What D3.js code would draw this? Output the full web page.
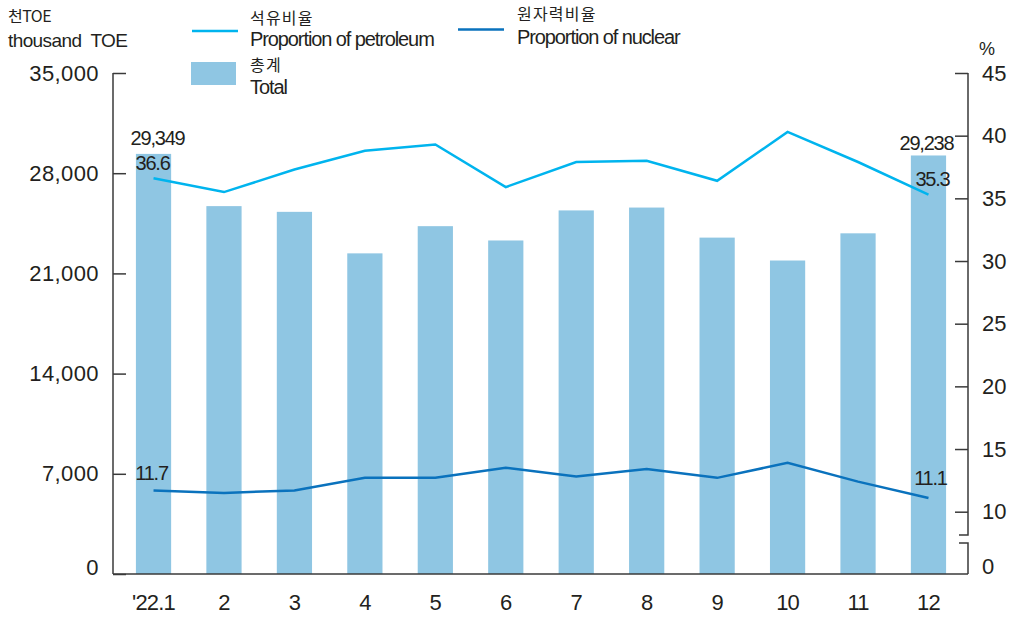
<!DOCTYPE html>
<html>
<head>
<meta charset="utf-8">
<script src="https://cdn.jsdelivr.net/npm/d3@7"></script>
<style>
  body { margin: 0; background: #fff; }
  svg text { font-family: "Liberation Sans", Arial, sans-serif; fill: #231f20; }
  .kr { font-family: "Noto Sans CJK KR", "Noto Sans", sans-serif; }
</style>
</head>
<body>
<div id="chart"></div>
<script>
// data
var months = ["'22.1", "2", "3", "4", "5", "6", "7", "8", "9", "10", "11", "12"];
var totals = [29349, 25700, 25300, 22400, 24300, 23300, 25400, 25600, 23500, 21900, 23800, 29238];
var petroleum = [36.6, 35.5, 37.3, 38.8, 39.3, 35.9, 37.9, 38.0, 36.4, 40.3, 37.9, 35.3];
var nuclear = [11.7, 11.5, 11.7, 12.7, 12.7, 13.5, 12.8, 13.4, 12.7, 13.9, 12.4, 11.1];
var leftTicks = [0, 7000, 14000, 21000, 28000, 35000];
var rightTicks = [10, 15, 20, 25, 30, 35, 40, 45];

var width = 1013, height = 618;
var plot = { left: 113, right: 968, top: 73, bottom: 574 };

var barColor = "#8fc6e3",
    petroColor = "#00b4ee",
    nucColor = "#0a72bd",
    axisColor = "#3a3a3a";

var svg = d3.select("#chart")
    .append("svg")
    .attr("width", width)
    .attr("height", height);

var x = d3.scaleBand()
    .domain(months)
    .range([118.3, 963.7])
    .paddingInner(0.5)
    .paddingOuter(0.25);

var yLeft = d3.scaleLinear()
    .domain([0, 35000])
    .range([plot.bottom, plot.top]);

// right axis is broken between 0 and 10
var yRight = d3.scaleLinear()
    .domain([10, 45])
    .range([511.7, plot.top]);

var cx = d => x(d) + x.bandwidth() / 2;

// bars
svg.append("g")
    .selectAll("rect")
    .data(totals)
    .enter()
    .append("rect")
    .attr("x", (d, i) => x(months[i]))
    .attr("y", d => yLeft(d))
    .attr("width", x.bandwidth())
    .attr("height", d => plot.bottom - yLeft(d))
    .attr("fill", barColor);

// left axis
var leftAxis = svg.append("g")
    .attr("transform", `translate(${plot.left},0)`)
    .call(d3.axisLeft(yLeft)
        .tickValues(leftTicks)
        .tickFormat(d3.format(","))
        .tickSize(-13)
        .tickPadding(14));
leftAxis.select(".domain").remove();
leftAxis.selectAll("line").attr("stroke", axisColor).attr("stroke-width", 1.5);
leftAxis.selectAll("text")
    .attr("font-size", 22)
    .attr("letter-spacing", 0.4)
    .attr("font-family", "Liberation Sans, Arial, sans-serif")
    .attr("fill", "#231f20")
    .filter(d => d === 0)
    .attr("y", -7);

svg.append("line")
    .attr("x1", plot.left).attr("x2", plot.left)
    .attr("y1", plot.top).attr("y2", plot.bottom)
    .attr("stroke", axisColor).attr("stroke-width", 1.5);

// right axis
var rightAxis = svg.append("g")
    .attr("transform", `translate(${plot.right},0)`)
    .call(d3.axisRight(yRight)
        .tickValues(rightTicks)
        .tickSize(-13)
        .tickPadding(14));
rightAxis.select(".domain").remove();
rightAxis.selectAll("line").attr("stroke", axisColor).attr("stroke-width", 1.5);
rightAxis.selectAll("text")
    .attr("font-size", 22)
    .attr("font-family", "Liberation Sans, Arial, sans-serif")
    .attr("fill", "#231f20");

var brk = svg.append("g")
    .attr("fill", "none")
    .attr("stroke", axisColor)
    .attr("stroke-width", 1.5);
brk.append("path")
    .attr("d", `M${plot.right},${plot.top}V535H${plot.right - 9}`);
brk.append("path")
    .attr("d", `M${plot.right - 9},543H${plot.right}V${plot.bottom}`);

svg.append("text")
    .attr("x", plot.right + 14)
    .attr("y", plot.bottom - 7)
    .attr("dy", "0.32em")
    .attr("font-size", 22)
    .text("0");

// bottom axis
var xAxis = svg.append("g")
    .attr("transform", `translate(0,${plot.bottom})`)
    .call(d3.axisBottom(x).tickSize(0).tickPadding(20));
xAxis.select(".domain").remove();
xAxis.selectAll("text")
    .attr("font-size", 22)
    .attr("letter-spacing", -0.8)
    .attr("font-family", "Liberation Sans, Arial, sans-serif")
    .attr("fill", "#231f20");

svg.append("line")
    .attr("x1", plot.left).attr("x2", plot.right)
    .attr("y1", plot.bottom).attr("y2", plot.bottom)
    .attr("stroke", axisColor).attr("stroke-width", 1.5);

// lines
var line = d3.line()
    .x((d, i) => cx(months[i]))
    .y(d => yRight(d));

svg.append("path")
    .datum(petroleum)
    .attr("d", line)
    .attr("fill", "none")
    .attr("stroke", petroColor)
    .attr("stroke-width", 2.5);

svg.append("path")
    .datum(nuclear)
    .attr("d", line)
    .attr("fill", "none")
    .attr("stroke", nucColor)
    .attr("stroke-width", 2.5);

// value labels on first and last months
var labelSize = 20, labelSpacing = -1.2;
function label(txt, px, py) {
    svg.append("text")
        .attr("x", px)
        .attr("y", py)
        .attr("dy", "0.35em")
        .attr("text-anchor", "middle")
        .attr("font-size", labelSize)
        .attr("letter-spacing", labelSpacing)
        .text(txt);
}
var first = 0, last = months.length - 1;
label(d3.format(",")(totals[first]), cx(months[first]) + 4, yLeft(totals[first]) - 16);
label(petroleum[first].toFixed(1), cx(months[first]) - 1, yRight(petroleum[first]) - 15);
label(nuclear[first].toFixed(1), cx(months[first]) - 2, yRight(nuclear[first]) - 17);
label(d3.format(",")(totals[last]), cx(months[last]) - 2, yLeft(totals[last]) - 12);
label(petroleum[last].toFixed(1), cx(months[last]) + 4, yRight(petroleum[last]) - 16);
label(nuclear[last].toFixed(1), cx(months[last]) + 2, yRight(nuclear[last]) - 20);

// units
svg.append("text").attr("class", "kr").attr("x", 8).attr("y", 22)
    .attr("font-size", 16).attr("letter-spacing", -0.5)
    .text("천TOE");
svg.append("text").attr("x", 8).attr("y", 47)
    .attr("font-size", 19).attr("letter-spacing", -0.6)
    .attr("xml:space", "preserve")
    .text("thousand  TOE");
svg.append("text").attr("x", 979).attr("y", 55)
    .attr("font-size", 18)
    .text("%");

// legend
var legend = svg.append("g");
legend.append("line")
    .attr("x1", 192).attr("x2", 238).attr("y1", 31).attr("y2", 31)
    .attr("stroke", petroColor).attr("stroke-width", 2.5);
legend.append("text").attr("class", "kr").attr("x", 250).attr("y", 24)
    .attr("font-size", 16).attr("letter-spacing", 1.2)
    .text("석유비율");
legend.append("text").attr("x", 250).attr("y", 46)
    .attr("font-size", 20).attr("letter-spacing", -1.1)
    .text("Proportion of petroleum");

legend.append("rect")
    .attr("x", 191).attr("y", 62).attr("width", 45).attr("height", 23)
    .attr("fill", barColor);
legend.append("text").attr("class", "kr").attr("x", 250).attr("y", 71)
    .attr("font-size", 16).attr("letter-spacing", 1.2)
    .text("총계");
legend.append("text").attr("x", 250).attr("y", 94)
    .attr("font-size", 20).attr("letter-spacing", -1.1)
    .text("Total");

legend.append("line")
    .attr("x1", 458).attr("x2", 504).attr("y1", 29.5).attr("y2", 29.5)
    .attr("stroke", nucColor).attr("stroke-width", 2.5);
legend.append("text").attr("class", "kr").attr("x", 517).attr("y", 20)
    .attr("font-size", 16).attr("letter-spacing", 1.2)
    .text("원자력비율");
legend.append("text").attr("x", 517).attr("y", 44)
    .attr("font-size", 20).attr("letter-spacing", -1.1)
    .text("Proportion of nuclear");
</script>
</body>
</html>
